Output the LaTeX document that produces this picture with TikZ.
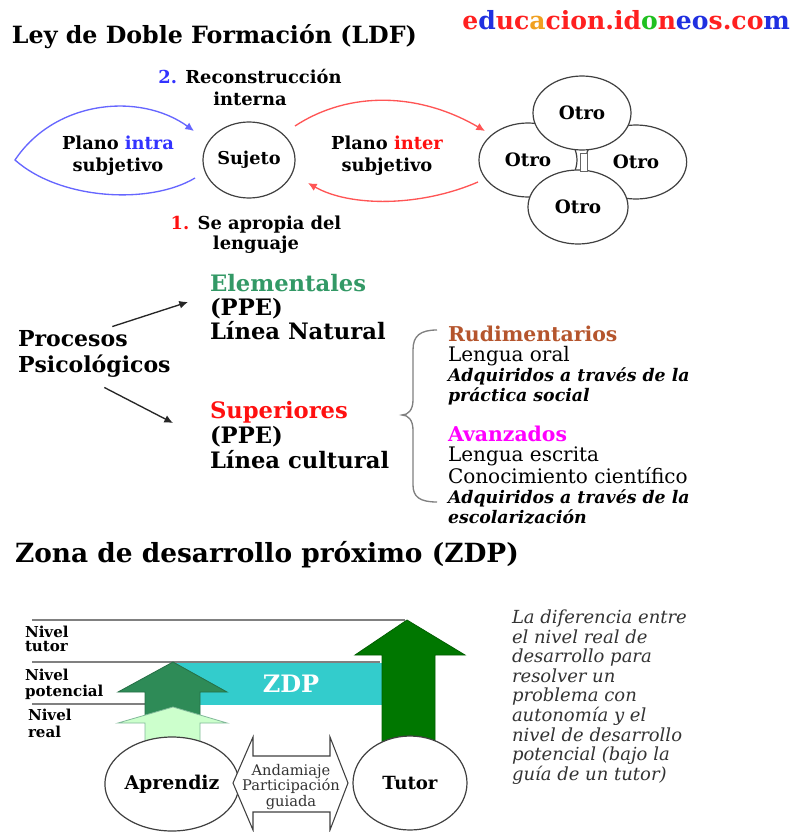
\documentclass[tikz,border=0pt]{standalone}
\usepackage{fontspec}
\setmainfont{DejaVu Serif}
\usetikzlibrary{calc,arrows.meta,shapes.geometric}
\definecolor{intrab}{HTML}{3333FF}
\definecolor{curveb}{HTML}{6666FF}
\definecolor{curver}{HTML}{FF5555}
\definecolor{interr}{HTML}{FF1010}
\definecolor{elemg}{HTML}{339966}
\definecolor{rudb}{HTML}{B5552D}
\definecolor{avzm}{HTML}{FF00FF}
\definecolor{zdpc}{HTML}{33CCCC}
\definecolor{darkg}{HTML}{2E8B57}
\definecolor{lightg}{HTML}{CCFFCC}
\definecolor{tutg}{HTML}{007700}
\definecolor{lgr}{HTML}{808080}
\definecolor{lr}{HTML}{FF2020}
\definecolor{lb}{HTML}{2030E0}
\definecolor{lo}{HTML}{F0A020}
\definecolor{lgn}{HTML}{20C020}
\definecolor{itxt}{HTML}{333333}
\newcommand\fz[2]{\fontsize{#1}{#2}\selectfont}
\begin{document}
\begin{tikzpicture}[x=0.75pt,y=-0.75pt,
  every node/.style={inner sep=0pt,outer sep=0pt},
  oval/.style={draw=black!75,line width=0.9pt,fill=white,shape=ellipse},
  conn/.style={line width=1pt,-{Latex[length=6.5pt,width=6pt]}},
  guide/.style={draw=lgr,line width=0.9pt},
  lbl/.style={font=\bfseries\fz{13.4}{16.5},align=center}
]
\useasboundingbox (0,0) rectangle (798,832);
\fill[white] (0,0) rectangle (798,832);

% ---------- header ----------
\node[anchor=west,font=\bfseries\fz{17.8}{20}] (title) at (12,37) {Ley de Doble Formación (LDF)};
\node[anchor=east,font=\bfseries\fz{18.8}{20}] (logo) at (790,20)
 {\textcolor{lr}{e}\textcolor{lb}{d}\textcolor{lr}{uc}\textcolor{lo}{a}\textcolor{lr}{cion.id}\textcolor{lgn}{o}\textcolor{lr}{n}\textcolor{lb}{eo}\textcolor{lr}{s.co}\textcolor{lb}{m}};

% ---------- LDF ----------
\node[oval,minimum width=69pt,minimum height=57pt,font=\bfseries\fz{13.3}{15}] (suj) at (249,160) {Sujeto};
\node[lbl] (pintra) at (118,156) {Plano \textcolor{intrab}{intra}\\subjetivo};
\node[lbl] (pinter) at (387,156) {Plano \textcolor{interr}{inter}\\subjetivo};
\node[lbl] (recon) at (250,87) {\textcolor{intrab}{2.} Reconstrucción\\interna};
\node[lbl,font=\bfseries\fz{13.4}{15}] (aprop) at (256,235) {\textcolor{interr}{1.} Se apropia del\\lenguaje};

\node[oval,minimum width=76pt,minimum height=55.5pt,font=\bfseries\fz{13.8}{15}] (orr) at (636,162) {Otro};
\node[oval,minimum width=73.5pt,minimum height=55.5pt,font=\bfseries\fz{13.8}{15}] (ol) at (528,160) {Otro};
\node[oval,minimum width=73.5pt,minimum height=55.5pt,font=\bfseries\fz{13.8}{15}] (ot) at (582,113) {Otro};
\node[oval,minimum width=75pt,minimum height=55.5pt,font=\bfseries\fz{13.8}{15}] (ob) at (578,207) {Otro};
\draw[draw=black!60,fill=white,line width=0.7pt] (580,153) rectangle (587,171);

\draw[curveb,conn] ($(suj)+(-54,18)$) .. controls (150,205) and (60,200) .. (15,160)
   .. controls (55,100) and (140,92) .. ($(suj)+(-55,-29)$);
\draw[curver,conn] ($(suj)+(46,-34)$) .. controls (350,90) and (420,93) .. ($(ol)+(-43,-29)$);
\draw[curver,conn] ($(ol)+(-50,22)$) .. controls (420,207) and (350,207) .. ($(suj)+(59,23)$);

% ---------- Procesos ----------
\node[anchor=west,font=\bfseries\fz{16.5}{19.5},align=left] (proc) at (18,354) {Procesos\\Psicológicos};
\node[anchor=west,font=\bfseries\fz{17}{18},align=left] (elem) at (210,307) {\textcolor{elemg}{Elementales}\\(PPE)\\Línea Natural};
\node[anchor=west,font=\bfseries\fz{17}{18.75},align=left] (sup) at (210,435) {\textcolor{interr}{Superiores}\\(PPE)\\Línea cultural};
\draw[conn,black!85] ($(proc.north)+(18,-4)$) -- ($(elem.west)+(-22,-5)$);
\draw[conn,black!85] ($(proc.south)+(10,10)$) -- ($(sup.west)+(-37,-12)$);

\draw[lgr,line width=1pt] (437,330) .. controls (420,330) and (413,336) .. (413,350) -- (413,400)
  .. controls (413,410) and (408,415) .. (402,415) .. controls (408,415) and (413,420) .. (413,430)
  -- (413,485) .. controls (413,497) and (420,502) .. (437,502);

\node[anchor=west,font=\fz{15}{15},align=left] (ramas) at (448,425)
 {{\bfseries\fz{15.3}{15}\textcolor{rudb}{Rudimentarios}}\\
  Lengua oral\\
  {\bfseries\itshape\fz{13}{15}Adquiridos a través de la}\\
  {\bfseries\itshape\fz{13}{15}práctica social}\\[15pt]
  {\bfseries\fz{15.3}{15}\textcolor{avzm}{Avanzados}}\\
  Lengua escrita\\
  Conocimiento científico\\
  {\bfseries\itshape\fz{13}{15}Adquiridos a través de la}\\
  {\bfseries\itshape\fz{13}{15}escolarización}};

% ---------- ZDP ----------
\node[anchor=west,font=\bfseries\fz{19.8}{20}] (zona) at (15,555) {Zona de desarrollo próximo (ZDP)};

\draw[guide] (32,620) -- (405,620);
\draw[guide] (32,662) -- (380,662);
\draw[guide] (32,704) -- (145,704);

\node[anchor=west,font=\bfseries\fz{11.3}{10.5},align=left] (ntut) at (25,639) {Nivel\\tutor};
\node[anchor=west,font=\bfseries\fz{11.3}{12},align=left] (npot) at (25,684) {Nivel\\potencial};
\node[anchor=west,font=\bfseries\fz{11.3}{12.75},align=left] (nreal) at (28,723) {Nivel\\real};

\node[fill=zdpc,minimum width=155pt,minimum height=31.5pt] (zdpbox) at (278.5,684) {};
\node[font=\bfseries\fz{18}{20},text=white] (zdptxt) at (291,684) {ZDP};

\filldraw[fill=darkg,draw=darkg!80!black,line width=0.6pt]
  (173,662) -- (227,692) -- (200,692) -- (200,716) -- (145,716) -- (145,692) -- (118,692) -- cycle;
\filldraw[fill=lightg,draw=darkg!60,line width=0.6pt]
  (173,707) -- (227,723) -- (200,723) -- (200,745) -- (145,745) -- (145,723) -- (118,723) -- cycle;
\filldraw[fill=tutg,draw=tutg!80!black,line width=0.6pt]
  (407,620) -- (465,655) -- (435,655) -- (435,745) -- (382,745) -- (382,655) -- (355,655) -- cycle;

\node[oval,minimum width=85.5pt,minimum height=70.5pt,font=\bfseries\fz{14.2}{15}] (apr) at (172,784) {Aprendiz};
\node[oval,minimum width=85.5pt,minimum height=70.5pt,font=\bfseries\fz{13.6}{15}] (tut) at (410,783) {Tutor};

\filldraw[fill=white,draw=black!75,line width=0.8pt]
  (233,783) -- (253,737) -- (253,756) -- (330,756) -- (330,737) -- (348,783)
  -- (330,830) -- (330,812) -- (253,812) -- (253,830) -- cycle;
\node[font=\fz{11}{11.3},align=center,text=black!80] (anda) at (291,787) {Andamiaje\\Participación\\guiada};

\node[anchor=west,font=\itshape\fz{13.5}{14.7},align=left,text=itxt] (defin) at (512,697)
 {La diferencia entre\\el nivel real de\\desarrollo para\\resolver un\\problema con\\autonomía y el\\nivel de desarrollo\\potencial (bajo la\\guía de un tutor)};
\end{tikzpicture}
\end{document}
